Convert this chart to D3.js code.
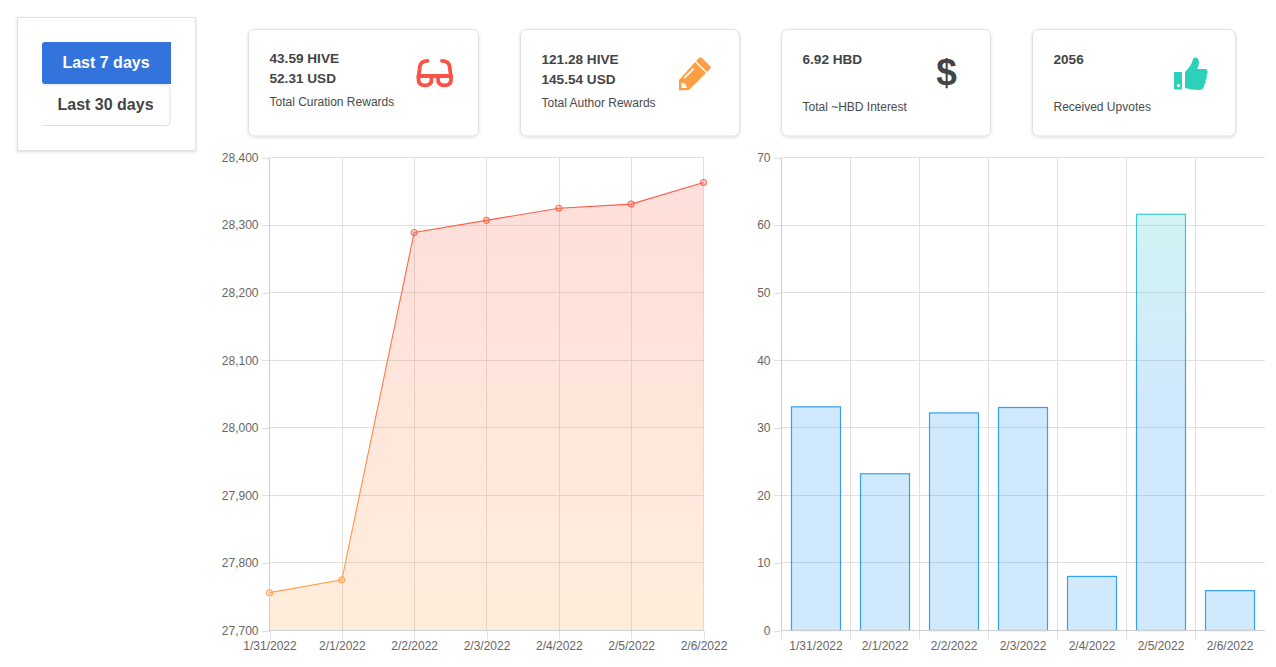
<!DOCTYPE html>
<html><head><meta charset="utf-8">
<script src="https://cdn.jsdelivr.net/npm/d3@7/dist/d3.min.js"></script>
<style>
html,body{margin:0;padding:0;background:#fff;overflow:hidden}
svg{display:block}
text{font-family:"Liberation Sans",Arial,sans-serif}
.tick text{font-size:12px;fill:#666}
.crisp{shape-rendering:crispEdges}
</style></head><body>
<svg id="c" width="1276" height="667"></svg>
<script>
const dates=["1/31/2022","2/1/2022","2/2/2022","2/3/2022","2/4/2022","2/5/2022","2/6/2022"];
const balance=[27756,27775,28289,28307,28325,28331,28363];
const upvotes=[33.1,23.2,32.2,33.0,8.0,61.6,5.9];
const balanceTicks=[27700,27800,27900,28000,28100,28200,28300,28400];
const upvoteTicks=[0,10,20,30,40,50,60,70];
const cards=[
 {x:249,w:230,lines:["43.59 HIVE","52.31 USD"],label:"Total Curation Rewards",ly:[63,83],lb:106},
 {x:521,w:219,lines:["121.28 HIVE","145.54 USD"],label:"Total Author Rewards",ly:[64,84],lb:107},
 {x:782,w:209,lines:["6.92 HBD"],label:"Total ~HBD Interest",ly:[64],lb:111},
 {x:1033,w:203,lines:["2056"],label:"Received Upvotes",ly:[64],lb:111}
];
const svg=d3.select("#c");
const defs=svg.append("defs");
const sh=defs.append("filter").attr("id","sh").attr("x","-5%").attr("y","-5%").attr("width","110%").attr("height","115%");
sh.append("feDropShadow").attr("dx",0).attr("dy",1).attr("stdDeviation",1.5).attr("flood-color","#000").attr("flood-opacity",.14);
function grad(id,y1,y2,a,b){
 const g=defs.append("linearGradient").attr("id",id).attr("gradientUnits","userSpaceOnUse").attr("x1",0).attr("x2",0).attr("y1",y1).attr("y2",y2);
 g.append("stop").attr("offset",0).attr("stop-color",a);
 g.append("stop").attr("offset",1).attr("stop-color",b);
}
const T=157.5,B=630.5;
grad("lg",180,630,"#fa5a46","#ffa64d");
grad("bg",157,400,"#2dd4bc","#2196f3");

svg.append("rect").attr("x",17.5).attr("y",17.5).attr("width",178).attr("height",133).attr("fill","#fff").attr("stroke","#e2e2e2").attr("filter","url(#sh)");
svg.append("path").attr("d","M42 45a3 3 0 0 1 3-3H171V84H45a3 3 0 0 1-3-3Z").attr("fill","#3273dc");
svg.append("path").attr("d","M42 85H167a3 3 0 0 1 3 3V122.5a3 3 0 0 1-3 3H42").attr("fill","#fff").attr("stroke","#dfdfdf");
svg.append("text").attr("x",106).attr("y",68).attr("text-anchor","middle").attr("font-size",16).attr("font-weight",700).attr("fill","#fff").text("Last 7 days");
svg.append("text").attr("x",105.5).attr("y",110).attr("text-anchor","middle").attr("font-size",16).attr("font-weight",700).attr("fill","#444").text("Last 30 days");

cards.forEach(c=>{
 const g=svg.append("g");
 g.append("rect").attr("x",c.x-.5).attr("y",29.5).attr("width",c.w).attr("height",106.5).attr("rx",6).attr("fill","#fff").attr("stroke","#e2e2e2").attr("filter","url(#sh)");
 c.lines.forEach((t,i)=>g.append("text").attr("x",c.x+20.5).attr("y",c.ly[i]).attr("font-size",13.6).attr("font-weight",700).attr("fill","#444").text(t));
 g.append("text").attr("x",c.x+20.5).attr("y",c.lb).attr("font-size",12).attr("fill","#4a4a4a").text(c.label);
});
const gl=svg.append("g").attr("fill","none").attr("stroke","#fa5245").attr("stroke-width",3.8).attr("stroke-linecap","round");
gl.append("path").attr("d","M418.500 77L420 66Q421 60.800 427.500 60.800M451 77L449.500 66Q448.500 60.800 442 60.800");
gl.append("path").attr("d","M418.500 76H431.500V79.500C431.500 83 429.500 85.300 425 85.300C420.500 85.300 418.500 83 418.500 79.500ZM438 76H451V79.500C451 83 449 85.300 444.500 85.300C440 85.300 438 83 438 79.500Z").attr("stroke-linejoin","round");
gl.append("path").attr("d","M431.500 76H438");
svg.append("path").attr("fill","#ff9d43").attr("fill-rule","evenodd").attr("d","M702 58L710 66a2 2 0 0 1 0 3L707 72L696 61L699 58a2 2 0 0 1 3 0ZM695 62L706 73L689 90L679 90.500L679 80ZM693 68L683.500 77.500L684.800 78.800L694.300 69.300ZM681.500 82.500L681.500 88L687 88L685.500 84Z");
svg.append("text").attr("x",946.500).attr("y",85).attr("text-anchor","middle").attr("font-size",37).attr("font-weight",700).attr("fill","#444").text("$");
svg.append("path").attr("fill","#2dd0b8").attr("fill-rule","evenodd").attr("d","M1175 72H1182V88.500a1 1 0 0 1-1 1H1175a1 1 0 0 1-1-1V73a1 1 0 0 1 1-1ZM1178.500 84a1.600 1.600 0 1 0 .01 0ZM1185 72C1189 68 1192 64 1193 59C1194 56.500 1199 57 1199 62C1199 65 1198 67 1197 69H1205C1208.500 69 1208 74 1206.500 75C1207.500 77 1206.500 79 1205.500 80C1206 82 1205.500 84 1204 85C1204.500 88 1202 90 1199 90C1194 90 1189 89 1185 88Z");

const grid="#e0e0e0";
const xL=d3.scalePoint().domain(dates).range([269.5,703.5]);
const yL=d3.scaleLinear().domain([27700,28400]).range([B,T]);
const axL=svg.append("g").attr("transform","translate(269.5,0)").call(d3.axisLeft(yL).tickValues(balanceTicks).tickFormat(d3.format(",")).tickSize(8).tickPadding(3));
const axLx=svg.append("g").attr("transform",`translate(0,${B})`).call(d3.axisBottom(xL).tickSize(8).tickPadding(3));
svg.selectAll(".gyl").data(balanceTicks).join("line").attr("class","crisp").attr("x1",269.5).attr("x2",703.5).attr("y1",d=>yL(d)).attr("y2",d=>yL(d)).attr("stroke",grid);
svg.selectAll(".gxl").data(dates).join("line").attr("class","crisp").attr("x1",d=>xL(d)+.2).attr("x2",d=>xL(d)+.2).attr("y1",T).attr("y2",B).attr("stroke",grid);
[axL,axLx].forEach(a=>{a.select(".domain").remove();a.selectAll("line").attr("stroke",grid).attr("class","crisp")});
svg.append("path").attr("d",d3.area().x((d,i)=>xL(dates[i])).y0(B).y1(d=>yL(d))(balance)).attr("fill","url(#lg)").attr("fill-opacity",.2);
svg.append("path").attr("d",d3.line().x((d,i)=>xL(dates[i])).y(d=>yL(d))(balance)).attr("fill","none").attr("stroke","url(#lg)").attr("stroke-width",1.1);
svg.selectAll(".pt").data(balance).join("circle").attr("cx",(d,i)=>xL(dates[i])).attr("cy",d=>yL(d)).attr("r",3).attr("fill","url(#lg)").attr("fill-opacity",.25).attr("stroke","url(#lg)").attr("stroke-opacity",.85).attr("stroke-width",1.1);
svg.append("line").attr("class","crisp").attr("x1",269.5).attr("x2",269.5).attr("y1",T).attr("y2",B).attr("stroke","#cfcfcf");
svg.append("line").attr("class","crisp").attr("x1",269.5).attr("x2",703.5).attr("y1",B).attr("y2",B).attr("stroke","#cfcfcf");

const xR=d3.scaleBand().domain(dates).range([781.5,1264.5]);
const yR=d3.scaleLinear().domain([0,70]).range([B,T]);
const axR=svg.append("g").attr("transform","translate(781.5,0)").call(d3.axisLeft(yR).tickValues(upvoteTicks).tickSize(8).tickPadding(3));
const axRx=svg.append("g").attr("transform",`translate(0,${B})`).call(d3.axisBottom(xR).tickSize(0).tickPadding(11));
[axR,axRx].forEach(a=>{a.select(".domain").remove();a.selectAll("line").attr("stroke",grid).attr("class","crisp")});
const edges=dates.map(d=>xR(d));
svg.selectAll(".gyr").data(upvoteTicks).join("line").attr("class","crisp").attr("x1",781.5).attr("x2",1264.5).attr("y1",d=>yR(d)).attr("y2",d=>yR(d)).attr("stroke",grid);
svg.selectAll(".gxr").data(edges).join("line").attr("class","crisp").attr("x1",d=>d).attr("x2",d=>d).attr("y1",T).attr("y2",B+8).attr("stroke",grid);
const inset=(xR.bandwidth()-49)/2;
svg.selectAll(".bar").data(upvotes).join("rect").attr("x",(d,i)=>xR(dates[i])+inset).attr("width",49).attr("y",d=>yR(d)).attr("height",d=>B-yR(d)).attr("fill","url(#bg)").attr("fill-opacity",.21).attr("stroke","url(#bg)").attr("stroke-width",1.2).attr("stroke-opacity",.9);
svg.append("line").attr("class","crisp").attr("x1",781.5).attr("x2",781.5).attr("y1",T).attr("y2",B).attr("stroke","#cfcfcf");
svg.append("line").attr("class","crisp").attr("x1",781.5).attr("x2",1264.5).attr("y1",B).attr("y2",B).attr("stroke","#cfcfcf");
</script></body></html>
